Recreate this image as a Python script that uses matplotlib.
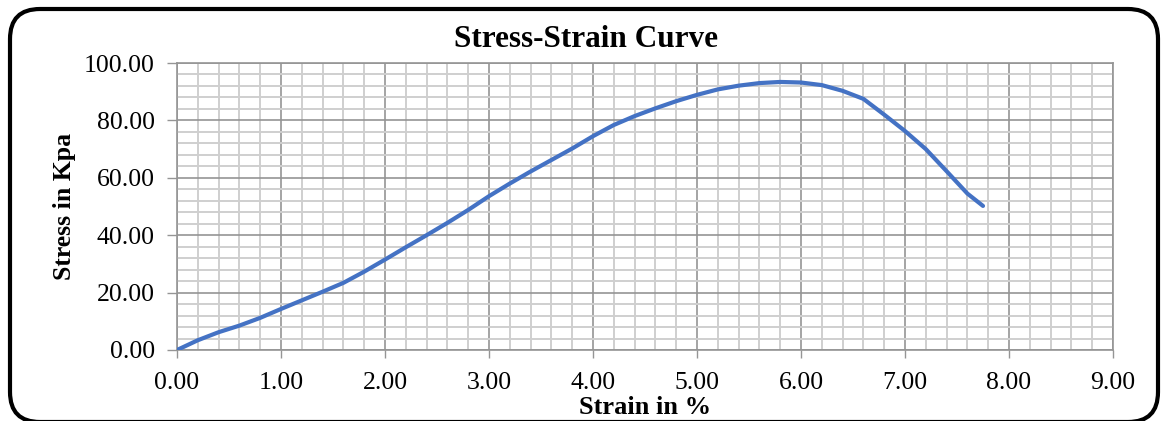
#libraries
import matplotlib
matplotlib.use("Agg")
import matplotlib.pyplot as plt
import numpy as np
from matplotlib.patches import FancyBboxPatch
from matplotlib.transforms import IdentityTransform
from matplotlib.ticker import MultipleLocator, FormatStrFormatter

plt.rcParams['font.family'] = ['Liberation Serif', 'DejaVu Serif']

# test readings: strain in %, stress in kPa
strain = [0.00, 0.20, 0.40, 0.60, 0.80, 1.00, 1.20, 1.40, 1.60, 1.80,
          2.00, 2.20, 2.40, 2.60, 2.80, 3.00, 3.20, 3.40, 3.60, 3.80,
          4.00, 4.20, 4.40, 4.60, 4.80, 5.00, 5.20, 5.40, 5.60, 5.80,
          6.00, 6.20, 6.40, 6.60, 6.80, 7.00, 7.20, 7.40, 7.60, 7.75]
stress = [0.0, 3.4, 6.2, 8.5, 11.2, 14.3, 17.3, 20.3, 23.4, 27.3,
          31.5, 35.8, 40.0, 44.3, 48.8, 53.6, 58.0, 62.2, 66.2, 70.2,
          74.5, 78.4, 81.5, 84.2, 86.7, 88.9, 90.8, 92.1, 93.0, 93.4,
          93.2, 92.3, 90.3, 87.5, 82.0, 76.3, 70.0, 62.3, 54.5, 50.2]

title = "Stress-Strain Curve"
xlabel = "Strain in %"
ylabel = "Stress in Kpa"

grid_major = '#959595'
grid_minor = '#cfcfcf'

#------------------------------------------------------------------------------------------------------------------------
fig = plt.figure(figsize=(11.61, 4.21), dpi=100)
ax = fig.add_axes([177/1161, 1 - 350/421, (1113 - 177)/1161, (350 - 63)/421])

# rounded frame around the whole chart (pixel coordinates)
frame = FancyBboxPatch((10, -1), 1148, 413,
                       boxstyle="round,pad=0,rounding_size=30",
                       transform=IdentityTransform(), facecolor='white',
                       edgecolor='black', linewidth=3.0, zorder=-10)
fig.patches.append(frame)

ax.plot(strain, stress, color='#4472C4', linewidth=3.0,
        solid_capstyle='round', solid_joinstyle='round', zorder=5)

ax.set_xlim(0, 9)
ax.set_ylim(0, 100)
ax.xaxis.set_major_locator(MultipleLocator(1))
ax.xaxis.set_minor_locator(MultipleLocator(0.2))
ax.yaxis.set_major_locator(MultipleLocator(20))
ax.yaxis.set_minor_locator(MultipleLocator(4))
ax.xaxis.set_major_formatter(FormatStrFormatter('%.2f'))
ax.yaxis.set_major_formatter(FormatStrFormatter('%.2f'))

#grid
ax.grid(which='minor', color=grid_minor, linewidth=1.4)
ax.grid(which='major', color=grid_major, linewidth=1.2)
ax.set_axisbelow(True)

for side in ['top', 'right', 'left', 'bottom']:
    ax.spines[side].set_color(grid_major)
    ax.spines[side].set_linewidth(1.2)

ax.tick_params(which='major', direction='out', width=1.0,
               color=grid_major, labelsize=18.5)
ax.tick_params(axis='x', length=6, pad=10)
ax.tick_params(axis='y', length=7, pad=9)
ax.tick_params(which='minor', length=0)

#labels
fig.text(0.505, 0.905, title, ha='center', va='center', fontsize=22.5, fontweight='bold')
ax.set_xlabel(xlabel, fontsize=19, fontweight='bold', labelpad=1)
ax.set_ylabel(ylabel, fontsize=18.5, fontweight='bold', labelpad=6)

fig.savefig("out.png", dpi=100)
